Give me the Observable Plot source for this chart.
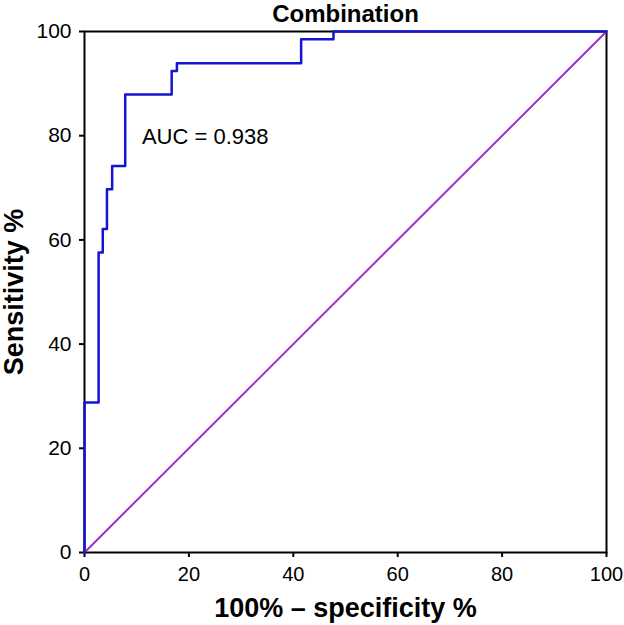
<!DOCTYPE html>
<html>
<head>
<meta charset="utf-8">
<script src="https://cdn.jsdelivr.net/npm/d3@7"></script>
<script src="https://cdn.jsdelivr.net/npm/@observablehq/plot@0.6"></script>
<style>
  html, body { margin: 0; padding: 0; background: #fff; }
  #chart svg { display: block; }
</style>
</head>
<body>
<div id="chart"></div>
<script>
// ROC curve step points (100% - specificity, sensitivity)
const fpr = [0, 0, 2.7, 3.5, 4.3, 5.3, 7.8, 16.7, 17.7, 41.5, 47.7, 100];
const tpr = [0, 28.8, 57.6, 62.1, 69.7, 74.2, 87.9, 92.4, 93.9, 98.5, 100, 100];
const refX = [0, 100];
const refY = [0, 100];
const ticks = [0, 20, 40, 60, 80, 100];
const titleText = "Combination";
const xLabel = "100% \u2013 specificity %";
const yLabel = "Sensitivity %";
const aucText = "AUC = 0.938";
const aucPos = {x: 11.0, y: 79.7};

const roc = fpr.map((x, i) => ({x, y: tpr[i]}));
const ref = refX.map((x, i) => ({x, y: refY[i]}));

const chart = Plot.plot({
  width: 624,
  height: 625,
  marginLeft: 84,
  marginRight: 18,
  marginTop: 31,
  marginBottom: 73,
  style: {fontFamily: "'Liberation Sans', Arial, sans-serif", color: "#000", background: "#fff", overflow: "visible"},
  x: {domain: [0, 100], ticks: ticks},
  y: {domain: [0, 100], ticks: ticks},
  marks: [
    Plot.frame({stroke: "#000", strokeWidth: 2}),
    Plot.axisX({ticks: ticks, tickSize: 5, tickPadding: 9, fontSize: 20, strokeWidth: 2, label: null}),
    Plot.axisY({ticks: ticks, tickSize: 5, tickPadding: 8, fontSize: 21, strokeWidth: 2, label: null}),
    Plot.line(ref, {x: "x", y: "y", stroke: "#9a2fd0", strokeWidth: 2}),
    Plot.line(roc, {x: "x", y: "y", curve: "step-after", stroke: "#1414d2", strokeWidth: 2.5}),
    Plot.text([aucText], {x: aucPos.x, y: aucPos.y, text: d => d, textAnchor: "start", fontSize: 22, fill: "#000"}),
    Plot.text([titleText], {frameAnchor: "top", lineAnchor: "middle", textAnchor: "middle", dy: -17, text: d => d, fontSize: 24, fontWeight: "bold", fill: "#000", letterSpacing: "1.5px"}),
    Plot.text([xLabel], {frameAnchor: "bottom", lineAnchor: "middle", textAnchor: "middle", dy: 56, text: d => d, fontSize: 27, fontWeight: "bold", fill: "#000"}),
    Plot.text([yLabel], {frameAnchor: "left", lineAnchor: "middle", textAnchor: "middle", dx: -70, rotate: -90, text: d => d, fontSize: 27, fontWeight: "bold", fill: "#000"})
  ]
});
document.getElementById("chart").appendChild(chart);
</script>
</body>
</html>
